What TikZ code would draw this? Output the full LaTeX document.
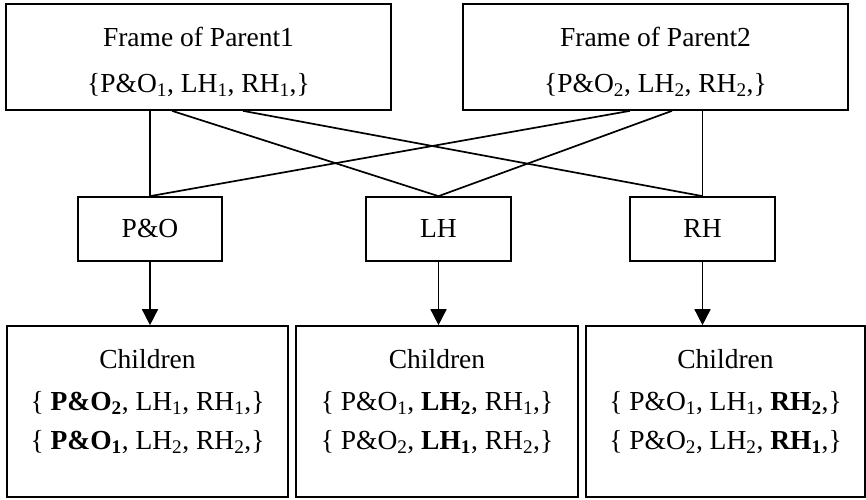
\documentclass[tikz,border=0pt]{standalone}
\usepackage{fontspec}
\setmainfont{Liberation Serif}
\usetikzlibrary{arrows.meta}
\newcommand{\lo}[1]{\textsubscript{#1}}
\begin{document}
\begin{tikzpicture}[x=1pt,y=-1pt,
  box/.style={draw, line width=1.7pt, inner sep=0pt},
  txt/.style={anchor=base, inner sep=0pt, font=\fontsize{27.5}{33}\selectfont},
  link/.style={line width=1.7pt},
  flow/.style={line width=1.7pt, -{Triangle[width=16pt,length=16pt]}}]
\useasboundingbox (0,0) rectangle (866,499);

% parent frames
\node[box, minimum width=385pt, minimum height=106pt] (p1) at (198.5,57) {};
\node[box, minimum width=385pt, minimum height=106pt] (p2) at (655.5,57) {};
\node[txt] (p1a) at ([yshift=-43pt]p1.north) {Frame of Parent1};
\node[txt] (p1b) at ([yshift=-89pt]p1.north) {\{P\&O\lo{1}, LH\lo{1}, RH\lo{1},\}};
\node[txt] (p2a) at ([yshift=-43pt]p2.north) {Frame of Parent2};
\node[txt] (p2b) at ([yshift=-89pt]p2.north) {\{P\&O\lo{2}, LH\lo{2}, RH\lo{2},\}};

% gene parts
\node[box, minimum width=144pt, minimum height=64pt] (po) at (150,229) {};
\node[box, minimum width=145pt, minimum height=64pt] (lh) at (438.5,229) {};
\node[box, minimum width=145pt, minimum height=64pt] (rh) at (702.5,229) {};
\node[txt] (pot) at ([yshift=-41pt]po.north) {P\&O};
\node[txt] (lht) at ([yshift=-41pt]lh.north) {LH};
\node[txt] (rht) at ([yshift=-41pt]rh.north) {RH};

% children frames
\node[box, minimum width=281pt, minimum height=171pt] (c1) at (147.5,411.5) {};
\node[box, minimum width=282pt, minimum height=171pt] (c2) at (437,411.5) {};
\node[box, minimum width=279pt, minimum height=171pt] (c3) at (725.5,411.5) {};
\foreach \c in {c1,c2,c3}
  \node[txt] (\c t) at ([yshift=-43pt]\c.north) {Children};
\node[txt] (c1a) at ([yshift=-85pt]c1.north) {\{ \textbf{P\&O\lo{2}}, LH\lo{1}, RH\lo{1},\}};
\node[txt] (c1b) at ([yshift=-124pt]c1.north) {\{ \textbf{P\&O\lo{1}}, LH\lo{2}, RH\lo{2},\}};
\node[txt] (c2a) at ([yshift=-85pt]c2.north) {\{ P\&O\lo{1}, \textbf{LH\lo{2}}, RH\lo{1},\}};
\node[txt] (c2b) at ([yshift=-124pt]c2.north) {\{ P\&O\lo{2}, \textbf{LH\lo{1}}, RH\lo{2},\}};
\node[txt] (c3a) at ([yshift=-85pt]c3.north) {\{ P\&O\lo{1}, LH\lo{1}, \textbf{RH\lo{2}},\}};
\node[txt] (c3b) at ([yshift=-124pt]c3.north) {\{ P\&O\lo{2}, LH\lo{2}, \textbf{RH\lo{1}},\}};

% crossing links from parents to parts
\draw[link] (po.north |- p1.south) -- (po.north);
\draw[link] ([xshift=-26.5pt]p1.south) -- (lh.north);
\draw[link] ([xshift=44.5pt]p1.south) -- (rh.north);
\draw[link] ([xshift=-25.5pt]p2.south) -- (po.north);
\draw[link] ([xshift=16.5pt]p2.south) -- (lh.north);
\draw[link] (rh.north |- p2.south) -- (rh.north);

% arrows to children
\draw[flow] (po.south) -- (po.south |- c1.north);
\draw[flow] (lh.south) -- (lh.south |- c2.north);
\draw[flow] (rh.south) -- (rh.south |- c3.north);
\end{tikzpicture}
\end{document}
